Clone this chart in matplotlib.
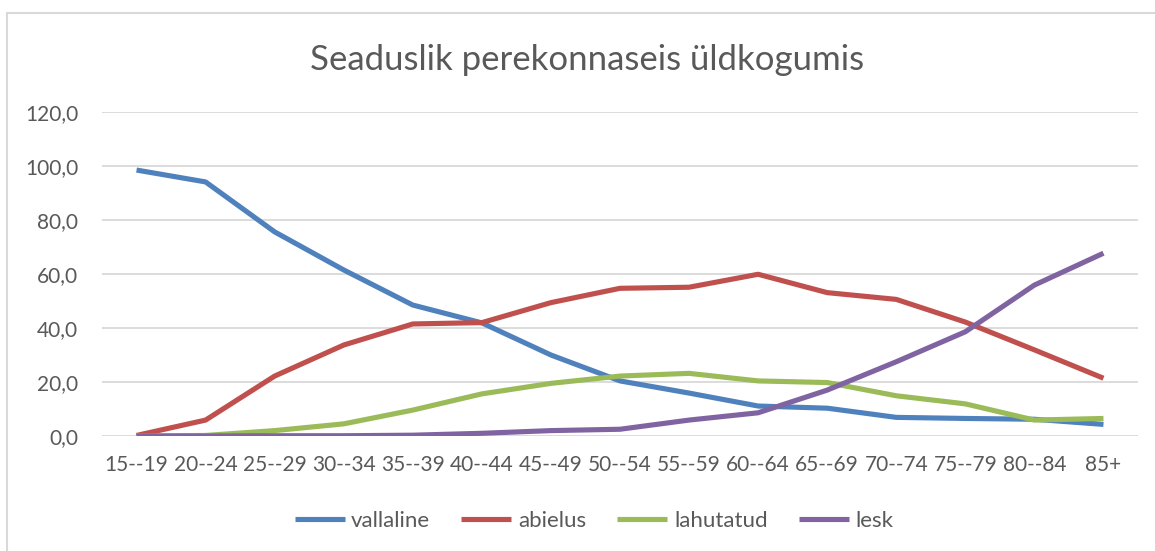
import matplotlib
matplotlib.use("Agg")
import matplotlib.pyplot as plt
from matplotlib.patches import Rectangle

# age groups and shares (%) by legal marital status
age_groups = ["15--19", "20--24", "25--29", "30--34", "35--39", "40--44", "45--49",
              "50--54", "55--59", "60--64", "65--69", "70--74", "75--79", "80--84", "85+"]
vallaline = [98.5, 94.1, 75.6, 61.5, 48.5, 41.9, 30.0, 20.4, 15.9, 11.1, 10.3, 6.9, 6.5, 6.2, 4.3]
abielus = [0.2, 5.9, 22.2, 33.7, 41.5, 42.0, 49.4, 54.7, 55.1, 59.9, 53.1, 50.6, 42.2, 31.9, 21.4]
lahutatud = [0.0, 0.2, 2.0, 4.5, 9.6, 15.6, 19.5, 22.2, 23.2, 20.4, 19.8, 14.9, 11.9, 5.9, 6.5]
lesk = [0.0, 0.0, 0.1, 0.1, 0.3, 1.0, 2.0, 2.5, 5.9, 8.6, 17.0, 27.5, 38.6, 55.9, 67.7]

series = [("vallaline", vallaline, "#4F81BD"),
          ("abielus", abielus, "#C0504D"),
          ("lahutatud", lahutatud, "#9BBB59"),
          ("lesk", lesk, "#8064A2")]

plt.rcParams["font.family"] = ["Lato", "DejaVu Sans"]
text_col = "#595959"

fig = plt.figure(figsize=(11.55, 5.51), dpi=100)
ax = fig.add_axes([102 / 1155, 1 - 436 / 551, (1138 - 102) / 1155, (436 - 112) / 551])

x = list(range(len(age_groups)))
for name, vals, col in series:
    ax.plot(x, vals, color=col, lw=3.7, label=name, solid_capstyle="butt", solid_joinstyle="round")

ax.set_xlim(-0.5, len(age_groups) - 0.5)
ax.set_ylim(0, 120)
ax.set_yticks(range(0, 121, 20))
ax.set_yticklabels([f"{v},0" for v in range(0, 121, 20)])
ax.set_xticks(x)
ax.set_xticklabels(age_groups)
ax.tick_params(length=0, labelsize=15, labelcolor=text_col)
ax.tick_params(axis="y", pad=17)
ax.tick_params(axis="x", pad=14)
ax.grid(axis="y", color="#D9D9D9", lw=1.3)
ax.set_axisbelow(True)
for s in ax.spines.values():
    s.set_visible(False)

fig.text(587 / 1155, 1 - 60 / 551, "Seaduslik perekonnaseis üldkogumis", ha="center",
         va="center", fontsize=25, color=text_col)

ax.legend(loc="center", bbox_to_anchor=(594 / 1155, 1 - 521 / 551), bbox_transform=fig.transFigure,
          ncol=4, frameon=False, fontsize=16, labelcolor=text_col, handlelength=2.25,
          columnspacing=1.4, handletextpad=0.3)

fig.patches.append(Rectangle((7 / 1155, -0.1), 1.2, 1.1 - 13 / 551, transform=fig.transFigure,
                             fill=False, edgecolor="#D9D9D9", lw=1.5))

fig.savefig("out.png", dpi=100, facecolor="white")
